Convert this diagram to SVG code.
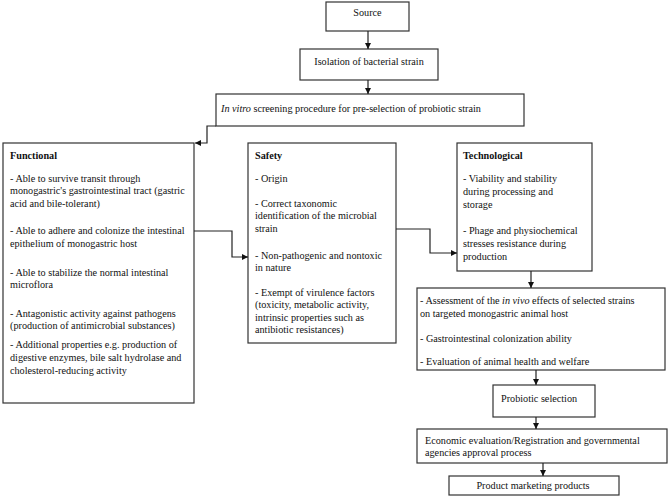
<svg xmlns="http://www.w3.org/2000/svg" width="669" height="500" viewBox="0 0 669 500">
<style>
.box{fill:#fff;stroke:#333;stroke-width:1.2}
.t{font-family:"Liberation Serif","Times New Roman",serif;font-size:10.2px;fill:#111}
.b{font-weight:bold}
.i{font-style:italic}
.c{fill:none;stroke:#222;stroke-width:1.2}
</style>
<defs>
<marker id="ah" viewBox="0 0 10 10" refX="10" refY="5" markerWidth="6" markerHeight="6" markerUnits="userSpaceOnUse" orient="auto">
<path d="M0,0 L10,5 L0,10 z" fill="#111"/>
</marker>
</defs>
<rect width="669" height="500" fill="#fff"/>
<g id="source">
<rect class="box" x="326" y="2" width="83" height="29"/>
<text class="t" x="367.5" y="16" text-anchor="middle">Source</text>
</g>
<g id="isolation">
<rect class="box" x="300" y="49" width="138" height="31"/>
<text class="t" x="369" y="65" text-anchor="middle">Isolation of bacterial strain</text>
</g>
<g id="invitro">
<rect class="box" x="216" y="94" width="308" height="32"/>
<text class="t" x="221" y="111.5"><tspan class="i">In vitro</tspan> screening procedure for pre-selection of probiotic strain</text>
</g>
<g id="functional">
<rect class="box" x="3" y="143" width="191" height="260"/>
<text class="t" x="10"><tspan class="b" x="10" y="158.5">Functional</tspan><tspan x="10" y="181.5">- Able to survive transit through</tspan><tspan x="10" y="194">monogastric's gastrointestinal tract (gastric</tspan><tspan x="10" y="206.5">acid and bile-tolerant)</tspan><tspan x="10" y="234">- Able to adhere and colonize the intestinal</tspan><tspan x="10" y="246.5">epithelium of monogastric host</tspan><tspan x="10" y="275.5">- Able to stabilize the normal intestinal</tspan><tspan x="10" y="288">microflora</tspan><tspan x="10" y="316.5">- Antagonistic activity against pathogens</tspan><tspan x="10" y="329">(production of antimicrobial substances)</tspan><tspan x="10" y="347.5">- Additional properties e.g. production of</tspan><tspan x="10" y="360.5">digestive enzymes, bile salt hydrolase and</tspan><tspan x="10" y="374">cholesterol-reducing activity</tspan></text>
</g>
<g id="safety">
<rect class="box" x="248" y="143" width="148" height="200"/>
<text class="t"><tspan class="b" x="255" y="158.5">Safety</tspan><tspan x="255" y="181.5">- Origin</tspan><tspan x="255" y="206.5">- Correct taxonomic</tspan><tspan x="255" y="219">identification of the microbial</tspan><tspan x="255" y="231.5">strain</tspan><tspan x="255" y="258.5">- Non-pathogenic and nontoxic</tspan><tspan x="255" y="271">in nature</tspan><tspan x="255" y="295.5">- Exempt of virulence factors</tspan><tspan x="255" y="308">(toxicity, metabolic activity,</tspan><tspan x="255" y="320.5">intrinsic properties such as</tspan><tspan x="255" y="333">antibiotic resistances)</tspan></text>
</g>
<g id="technological">
<rect class="box" x="457" y="143" width="135" height="128"/>
<text class="t"><tspan class="b" x="463" y="158.5">Technological</tspan><tspan x="463" y="181.5">- Viability and stability</tspan><tspan x="463" y="194.5">during processing and</tspan><tspan x="463" y="207.5">storage</tspan><tspan x="463" y="233.5">- Phage and physiochemical</tspan><tspan x="463" y="246.5">stresses resistance during</tspan><tspan x="463" y="259.5">production</tspan></text>
</g>
<g id="assessment">
<rect class="box" x="417" y="288" width="248" height="82"/>
<text class="t"><tspan x="420" y="303.5">- Assessment of the <tspan class="i">in vivo</tspan> effects of selected strains</tspan><tspan x="420" y="317">on targeted monogastric animal host</tspan><tspan x="420" y="342">- Gastrointestinal colonization ability</tspan><tspan x="420" y="365">- Evaluation of animal health and welfare</tspan></text>
</g>
<g id="probiotic">
<rect class="box" x="493" y="385" width="102" height="32"/>
<text class="t" x="501" y="401.5">Probiotic selection</text>
</g>
<g id="economic">
<rect class="box" x="417" y="429" width="250" height="34"/>
<text class="t"><tspan x="425" y="443.5">Economic evaluation/Registration and governmental</tspan><tspan x="425" y="455.5">agencies approval process</tspan></text>
</g>
<g id="product">
<rect class="box" x="449" y="476" width="170" height="19"/>
<text class="t" x="533" y="489" text-anchor="middle">Product marketing products</text>
</g>
<g id="connectors">
<path class="c" d="M368,31 V49" marker-end="url(#ah)"/>
<path class="c" d="M368,80 V94" marker-end="url(#ah)"/>
<path class="c" d="M216,126 H207 V143 H195" marker-end="url(#ah)"/>
<path class="c" d="M194,231 H232 V257 H248" marker-end="url(#ah)"/>
<path class="c" d="M396,229 H430 V253 H457" marker-end="url(#ah)"/>
<path class="c" d="M531,271 V288" marker-end="url(#ah)"/>
<path class="c" d="M536,370 V385" marker-end="url(#ah)"/>
<path class="c" d="M536,417 V429" marker-end="url(#ah)"/>
<path class="c" d="M543,463 V476" marker-end="url(#ah)"/>
</g>
</svg>
